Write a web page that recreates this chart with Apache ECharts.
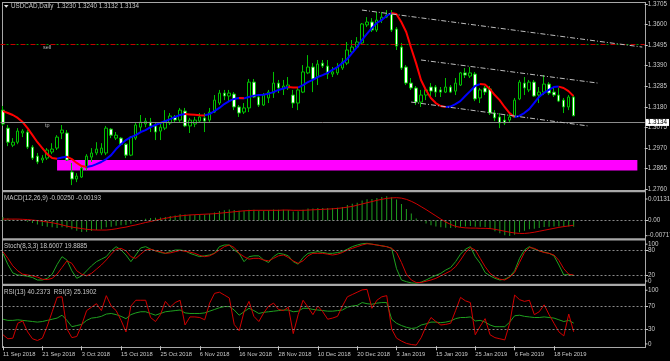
<!DOCTYPE html>
<html><head><meta charset="utf-8">
<script src="https://cdn.jsdelivr.net/npm/echarts@6/dist/echarts.min.js"></script>
<style>html,body{margin:0;padding:0;background:#000;}#c{width:670px;height:361px;}</style>
</head><body><div id="c"></div>
<script>
// ---------------- data ----------------
const symbolName = 'USDCAD,Daily';
const dateLabels = ['11 Sep 2018','21 Sep 2018','3 Oct 2018','15 Oct 2018','25 Oct 2018','6 Nov 2018','16 Nov 2018','28 Nov 2018','10 Dec 2018','20 Dec 2018','3 Jan 2019','15 Jan 2019','25 Jan 2019','6 Feb 2019','18 Feb 2019'];
const barsPerDateLabel = 8;
const slotCount = 131; // bars plus empty right margin of the chart
const priceTicks = [1.2760,1.2865,1.2970,1.3075,1.3180,1.3285,1.3390,1.3495,1.3600,1.3705];
const macdRange = [-0.00717, 0.01131];
const macdTicks = [0];
const stochTicks = [20, 80];
const rsiTicks = [30, 70];

const openP = [1.3163,1.3071,1.2984,1.2999,1.3046,1.3051,1.2974,1.2928,1.2908,1.2918,
1.2949,1.2969,1.3046,1.3046,1.2847,1.2811,1.2821,1.2867,1.2923,1.2944,
1.2944,1.2944,1.3066,1.3020,1.3020,1.2989,1.2933,1.3020,1.3076,1.3092,
1.3102,1.3082,1.3056,1.3071,1.3097,1.3128,1.3112,1.3158,1.3082,1.3092,
1.3107,1.3123,1.3112,1.3153,1.3199,1.3250,1.3235,1.3245,1.3179,1.3153,
1.3174,1.3306,1.3230,1.3189,1.3225,1.3250,1.3301,1.3271,1.3276,1.3240,
1.3199,1.3255,1.3353,1.3383,1.3332,1.3403,1.3388,1.3347,1.3353,1.3378,
1.3403,1.3460,1.3485,1.3506,1.3598,1.3613,1.3572,1.3623,1.3638,1.3654,
1.3577,1.3485,1.3383,1.3301,1.3276,1.3204,1.3240,1.3281,1.3281,1.3266,
1.3255,1.3281,1.3260,1.3291,1.3353,1.3337,1.3347,1.3225,1.3276,1.3271,
1.3148,1.3128,1.3112,1.3112,1.3128,1.3220,1.3301,1.3266,1.3306,1.3240,
1.3255,1.3296,1.3255,1.3240,1.3214,1.3179,1.3230];
const closeP = [1.3092,1.2999,1.2999,1.3056,1.3056,1.2974,1.2918,1.2898,1.2918,1.2959,
1.2964,1.3025,1.3061,1.2908,1.2811,1.2826,1.2867,1.2928,1.2944,1.2964,
1.2969,1.3071,1.3035,1.3035,1.2989,1.2933,1.3025,1.3087,1.3102,1.3107,
1.3082,1.3051,1.3076,1.3107,1.3133,1.3112,1.3163,1.3082,1.3112,1.3112,
1.3128,1.3107,1.3153,1.3214,1.3250,1.3235,1.3250,1.3179,1.3148,1.3174,
1.3306,1.3230,1.3189,1.3240,1.3255,1.3301,1.3276,1.3286,1.3291,1.3199,
1.3266,1.3358,1.3383,1.3322,1.3398,1.3388,1.3347,1.3358,1.3383,1.3409,
1.3470,1.3485,1.3511,1.3603,1.3613,1.3572,1.3623,1.3638,1.3649,1.3572,
1.3490,1.3378,1.3301,1.3276,1.3204,1.3240,1.3266,1.3260,1.3255,1.3255,
1.3281,1.3255,1.3301,1.3353,1.3342,1.3353,1.3220,1.3266,1.3255,1.3148,
1.3123,1.3097,1.3097,1.3128,1.3214,1.3306,1.3276,1.3306,1.3235,1.3255,
1.3296,1.3250,1.3240,1.3209,1.3179,1.3230,1.3134];
const highP = [1.3184,1.3087,1.3020,1.3071,1.3066,1.3061,1.2984,1.2944,1.2933,1.2969,
1.2994,1.3035,1.3087,1.3061,1.2893,1.2841,1.2882,1.2938,1.2969,1.2999,
1.2994,1.3082,1.3071,1.3051,1.3025,1.2994,1.3030,1.3097,1.3138,1.3123,
1.3123,1.3097,1.3102,1.3163,1.3148,1.3138,1.3174,1.3174,1.3123,1.3128,
1.3148,1.3148,1.3174,1.3240,1.3266,1.3266,1.3266,1.3255,1.3189,1.3199,
1.3322,1.3322,1.3240,1.3250,1.3266,1.3358,1.3317,1.3317,1.3332,1.3266,
1.3276,1.3393,1.3444,1.3403,1.3419,1.3419,1.3419,1.3383,1.3403,1.3429,
1.3511,1.3521,1.3536,1.3608,1.3638,1.3633,1.3664,1.3664,1.3674,1.3674,
1.3587,1.3506,1.3393,1.3327,1.3286,1.3266,1.3276,1.3301,1.3291,1.3281,
1.3327,1.3291,1.3327,1.3358,1.3378,1.3383,1.3358,1.3276,1.3286,1.3286,
1.3163,1.3148,1.3138,1.3148,1.3225,1.3317,1.3332,1.3317,1.3317,1.3281,
1.3342,1.3306,1.3276,1.3276,1.3225,1.3240,1.3240];
const lowP = [1.3082,1.2979,1.2974,1.2989,1.3025,1.2964,1.2908,1.2887,1.2893,1.2908,
1.2938,1.2959,1.3015,1.2903,1.2780,1.2795,1.2816,1.2857,1.2898,1.2933,
1.2933,1.2933,1.3020,1.3010,1.2984,1.2918,1.2928,1.3010,1.3046,1.3076,
1.3051,1.3010,1.3010,1.3061,1.3087,1.3102,1.3102,1.3076,1.3046,1.3076,
1.3102,1.3051,1.3102,1.3148,1.3189,1.3214,1.3204,1.3163,1.3128,1.3143,
1.3153,1.3225,1.3179,1.3184,1.3199,1.3225,1.3250,1.3240,1.3266,1.3174,
1.3163,1.3250,1.3347,1.3255,1.3291,1.3378,1.3322,1.3332,1.3342,1.3368,
1.3393,1.3454,1.3475,1.3501,1.3587,1.3562,1.3562,1.3608,1.3633,1.3562,
1.3470,1.3368,1.3291,1.3266,1.3189,1.3179,1.3214,1.3230,1.3230,1.3230,
1.3250,1.3250,1.3240,1.3286,1.3327,1.3327,1.3209,1.3199,1.3240,1.3138,
1.3107,1.3071,1.3087,1.3102,1.3123,1.3214,1.3240,1.3255,1.3230,1.3199,
1.3240,1.3240,1.3230,1.3204,1.3148,1.3163,1.3132];
const maLine = [1.3158,1.3148,1.3138,1.3123,1.3102,1.3071,1.3035,1.2999,1.2969,1.2938,
1.2918,1.2915,1.2921,1.2925,1.2913,1.2893,1.2877,1.2872,1.2877,1.2887,
1.2898,1.2913,1.2933,1.2964,1.2989,1.3010,1.3025,1.3035,1.3051,1.3061,
1.3076,1.3087,1.3097,1.3107,1.3117,1.3128,1.3138,1.3143,1.3141,1.3139,
1.3137,1.3136,1.3143,1.3158,1.3174,1.3194,1.3209,1.3220,1.3225,1.3223,
1.3230,1.3237,1.3240,1.3242,1.3247,1.3255,1.3266,1.3273,1.3281,1.3279,
1.3278,1.3291,1.3306,1.3317,1.3332,1.3342,1.3353,1.3368,1.3383,1.3403,
1.3424,1.3454,1.3485,1.3521,1.3552,1.3582,1.3608,1.3623,1.3644,1.3659,
1.3654,1.3613,1.3562,1.3480,1.3403,1.3317,1.3266,1.3225,1.3199,1.3184,
1.3179,1.3181,1.3194,1.3209,1.3235,1.3260,1.3286,1.3296,1.3294,1.3271,
1.3240,1.3214,1.3179,1.3148,1.3128,1.3133,1.3148,1.3168,1.3199,1.3230,
1.3250,1.3266,1.3281,1.3283,1.3276,1.3260,1.3235];
const sellLevel = 1.3461;
const tpLevel = 1.3061;
const zoneStart = 11, zoneEnd = 129, zoneHigh = 1.2908, zoneLow = 1.2854;
const trendUpper = [[73, 1.3674], [130, 1.3485]];
const trendMiddle = [[85, 1.3419], [121, 1.3301]];
const trendLower = [[83, 1.3204], [119, 1.3082]];
const macdMain = [0.0015,0.0008,0.0004,0.0003,0.0001,-0.0005,-0.0010,-0.0016,-0.0022,-0.0026,
-0.0028,-0.0031,-0.0028,-0.0030,-0.0036,-0.0042,-0.0047,-0.0046,-0.0043,-0.0039,
-0.0036,-0.0028,-0.0025,-0.0021,-0.0019,-0.0018,-0.0013,-0.0006,0.0002,0.0007,
0.0010,0.0011,0.0012,0.0015,0.0019,0.0021,0.0026,0.0025,0.0024,0.0024,
0.0025,0.0025,0.0028,0.0033,0.0039,0.0042,0.0045,0.0043,0.0040,0.0039,
0.0044,0.0044,0.0041,0.0041,0.0042,0.0045,0.0044,0.0044,0.0043,0.0037,
0.0038,0.0044,0.0049,0.0049,0.0052,0.0052,0.0051,0.0051,0.0053,0.0056,
0.0064,0.0069,0.0073,0.0082,0.0087,0.0088,0.0093,0.0097,0.0100,0.0096,
0.0086,0.0068,0.0047,0.0029,0.0008,-0.0003,-0.0012,-0.0019,-0.0024,-0.0028,
-0.0030,-0.0031,-0.0030,-0.0026,-0.0024,-0.0022,-0.0026,-0.0026,-0.0027,-0.0035,
-0.0044,-0.0052,-0.0060,-0.0063,-0.0058,-0.0048,-0.0042,-0.0036,-0.0034,-0.0031,
-0.0027,-0.0025,-0.0024,-0.0024,-0.0026,-0.0024,-0.00250];
const macdSignal = [0.0006,0.0006,0.0006,0.0006,0.0005,0.0004,0.0002,0.0000,-0.0003,-0.0006,
-0.0009,-0.0013,-0.0018,-0.0023,-0.0027,-0.0030,-0.0033,-0.0036,-0.0038,-0.0039,
-0.0039,-0.0039,-0.0037,-0.0034,-0.0030,-0.0027,-0.0022,-0.0018,-0.0013,-0.0008,
-0.0004,0.0001,0.0005,0.0009,0.0013,0.0016,0.0019,0.0021,0.0023,0.0024,
0.0025,0.0026,0.0027,0.0028,0.0030,0.0032,0.0034,0.0036,0.0038,0.0040,
0.0041,0.0042,0.0042,0.0042,0.0042,0.0042,0.0042,0.0043,0.0043,0.0042,
0.0042,0.0042,0.0043,0.0044,0.0045,0.0046,0.0047,0.0048,0.0050,0.0052,
0.0055,0.0058,0.0063,0.0068,0.0073,0.0078,0.0083,0.0087,0.0091,0.0093,
0.0094,0.0092,0.0087,0.0079,0.0069,0.0057,0.0045,0.0032,0.0019,0.0006,
-0.0006,-0.0016,-0.0024,-0.0028,-0.0030,-0.0031,-0.0031,-0.0032,-0.0032,-0.0033,
-0.0036,-0.0040,-0.0044,-0.0048,-0.0051,-0.0053,-0.0053,-0.0051,-0.0048,-0.0044,
-0.0040,-0.0036,-0.0032,-0.0028,-0.0025,-0.0022,-0.00193];
const stochMain = [72,45,25,20,19,17,14,8,8,12,
22,45,64,56,30,12,18,30,42,52,
58,64,78,88,80,68,52,68,85,88,
82,78,74,72,76,80,80,78,72,68,
64,66,68,72,88,92,92,80,72,52,
64,66,66,56,50,64,72,70,66,52,
46,62,72,74,76,74,72,72,74,76,
82,88,92,95,96,94,92,90,88,84,
35,8,4,1,0,3,8,14,19,24,
32,38,52,70,82,88,64,48,26,18,
12,8,10,16,30,60,80,88,82,78,
75,72,66,44,20,21,18.6007];
const stochSignal = [76,60,42,30,22,20,18,15,10,9,
12,22,38,54,48,30,22,18,24,34,
44,56,70,82,84,78,64,60,70,80,
82,78,76,72,73,76,79,77,75,72,
67,64,66,72,80,88,92,86,72,64,
58,60,60,56,54,60,66,68,62,54,
48,54,66,72,72,72,70,68,70,74,
80,84,88,92,95,94,92,90,88,84,
74,50,22,8,2,2,5,8,12,18,
24,30,40,56,74,86,80,60,40,24,
15,10,8,15,26,50,74,86,84,78,
74,72,68,55,35,22,19.8885];
const rsi13 = [47,45,45,46,45,44,43,42,43,45,
47,49,54,45,34,36,38,45,49,50,
52,56,57,55,52,48,55,58,60,60,
57,54,57,60,61,62,63,58,57,57,
57,58,61,64,67,69,69,63,54,60,
66,62,57,59,60,61,62,63,63,60,
61,66,66,64,63,62,61,61,62,63,
68,70,71,76,74,73,75,76,76,47,
40,36,33,31,32,37,39,42,42,41,
42,44,48,50,50,51,44,45,42,37,
34,34,34,42,53,54,52,51,50,50,
51,50,49,46,43,45,40.2373];
const rsi3 = [20,13,14,40,44,25,13,10,14,35,
60,85,86,30,15,17,37,62,68,74,
62,88,70,62,45,25,70,80,80,80,
50,43,55,78,68,76,80,37,51,51,
50,46,75,92,94,89,84,38,27,60,
78,52,43,58,70,75,64,62,68,22,
55,80,68,55,70,60,47,49,52,70,
86,90,94,98,99,66,80,86,88,30,
14,9,5,3,2,15,35,50,43,37,
38,40,62,85,79,76,20,35,48,20,
15,13,11,40,89,81,78,80,55,60,
72,55,40,25,18,56,25.1902];

// ---------------- build ----------------
const FONT = 'Liberation Sans';
const TXT = '#c8c8c8';
const GREEN_CANDLE = '#00c000';
const n = openP.length;
const last = n - 1;
const cats = Array.from({length: slotCount}, (_, i) => String(i));
const candleData = openP.map((o, i) => [o, closeP[i], lowP[i], highP[i]]);
const maUp = maLine.map(() => null), maDn = maLine.map(() => null);
for (let i = 0; i < n - 1; i++) {
  const arr = maLine[i + 1] >= maLine[i] ? maUp : maDn;
  arr[i] = maLine[i]; arr[i + 1] = maLine[i + 1];
}
const isDateIdx = (i) => i % barsPerDateLabel === 0 && i / barsPerDateLabel < dateLabels.length;

const chart = echarts.init(document.getElementById('c'), null, {renderer: 'canvas'});
const gridDefs = [
  {left: 0.5, right: 25, top: 4, height: 185},
  {left: 0.5, right: 25, top: 193, height: 45},
  {left: 0.5, right: 25, top: 241.67, height: 41.67},
  {left: 0.5, right: 25, top: 288.75, height: 57.5}
];
const xAxes = gridDefs.map((g, k) => ({
  type: 'category', gridIndex: k, data: cats, boundaryGap: true,
  axisLine: {show: false}, splitLine: {show: false},
  axisTick: k === 3 ? {show: true, interval: (i) => isDateIdx(i), alignWithLabel: true, length: 4, lineStyle: {color: TXT}} : {show: false},
  axisLabel: k === 3 ? {show: true, interval: (i) => isDateIdx(i), formatter: (v, i) => isDateIdx(i) ? dateLabels[i / barsPerDateLabel] : '',
    align: 'left', margin: 3, fontSize: 5.8, color: TXT, fontFamily: FONT, hideOverlap: false} : {show: false},
  offset: k === 3 ? 1.75 : 0
}));
function yAx(k, min, max, ticks, fmt) {
  return {type: 'value', gridIndex: k, position: 'right', min: min, max: max,
    axisLine: {show: false}, splitLine: {show: false},
    axisTick: {show: true, length: 3, customValues: ticks, lineStyle: {color: TXT}},
    axisLabel: {show: true, customValues: ticks, formatter: fmt, margin: 3, fontSize: 6.3, color: TXT, fontFamily: FONT}};
}
const levelStyle = {color: '#8a8a8a', type: [2, 2], width: 1};
const lvl = (vals) => ({silent: true, symbol: ['none', 'none'], label: {show: false}, lineStyle: levelStyle, data: vals.map(v => ({yAxis: v}))});

const option = {
  backgroundColor: '#000000',
  animation: false,
  grid: gridDefs,
  xAxis: xAxes,
  yAxis: [
    yAx(0, priceTicks[0], priceTicks[priceTicks.length - 1], priceTicks, v => v.toFixed(4)),
    yAx(1, macdRange[0], macdRange[1], macdTicks, () => '0.00'),
    yAx(2, 0, 100, stochTicks, v => String(v)),
    yAx(3, 0, 100, rsiTicks, v => String(v))
  ],
  series: [
    {type: 'line', xAxisIndex: 0, yAxisIndex: 0, data: ['-'], z: 0, silent: true,
      markArea: {silent: true, itemStyle: {color: '#ff00ff', opacity: 1},
        data: [[{xAxis: zoneStart, yAxis: zoneHigh}, {xAxis: zoneEnd, yAxis: zoneLow}]]}},
    {type: 'candlestick', xAxisIndex: 0, yAxisIndex: 0, data: candleData, barWidth: 3, z: 2,
      itemStyle: {color: '#000000', color0: '#ffffff', borderColor: GREEN_CANDLE, borderColor0: GREEN_CANDLE, borderWidth: 1},
      markLine: {silent: true, symbol: ['none', 'none'], label: {show: false},
        data: [
          {yAxis: sellLevel, lineStyle: {color: '#c80000', type: [5, 5], width: 1}},
          {yAxis: sellLevel, lineStyle: {color: '#00a000', type: [2, 8], dashOffset: -6, width: 1}},
          {yAxis: tpLevel, lineStyle: {color: '#9a0000', type: [6, 3, 2, 3], width: 1}},
          {yAxis: closeP[last], lineStyle: {color: '#8c8c8c', type: 'solid', width: 1},
            label: {show: true, position: 'end', distance: 1, formatter: closeP[last].toFixed(4), backgroundColor: '#ffffff',
              color: '#000000', padding: [1, 2, 0, 2], fontSize: 6.3, fontFamily: FONT}},
          [{coord: trendUpper[0]}, {coord: trendUpper[1], lineStyle: {color: '#bdbdbd', type: [5, 2, 1, 2], width: 1}}],
          [{coord: trendMiddle[0]}, {coord: trendMiddle[1], lineStyle: {color: '#bdbdbd', type: [5, 2, 1, 2], width: 1}}],
          [{coord: trendLower[0]}, {coord: trendLower[1], lineStyle: {color: '#bdbdbd', type: [5, 2, 1, 2], width: 1}}]
        ]},
      markPoint: {silent: true, symbol: 'rect', symbolSize: 1, itemStyle: {color: 'rgba(0,0,0,0)'},
        label: {show: true, position: 'top', distance: 1, color: '#b8b8b8', fontSize: 5.5, fontFamily: FONT, formatter: '{b}'},
        data: [{name: 'sell', coord: [9, sellLevel]}, {name: 'tp', coord: [9, tpLevel]}]}
    },
    {type: 'line', xAxisIndex: 0, yAxisIndex: 0, data: maUp, showSymbol: false, connectNulls: false, z: 3, silent: true,
      lineStyle: {color: '#0000ff', width: 2}},
    {type: 'line', xAxisIndex: 0, yAxisIndex: 0, data: maDn, showSymbol: false, connectNulls: false, z: 3, silent: true,
      lineStyle: {color: '#ff0000', width: 2}},
    {type: 'bar', xAxisIndex: 1, yAxisIndex: 1, data: macdMain, barWidth: 1, itemStyle: {color: '#1fa01f'}, silent: true, markLine: lvl(macdTicks)},
    {type: 'line', xAxisIndex: 1, yAxisIndex: 1, data: macdSignal, showSymbol: false, silent: true, lineStyle: {color: '#d00000', width: 1}},
    {type: 'line', xAxisIndex: 2, yAxisIndex: 2, data: stochMain, showSymbol: false, silent: true, lineStyle: {color: '#1fa01f', width: 1}, markLine: lvl(stochTicks)},
    {type: 'line', xAxisIndex: 2, yAxisIndex: 2, data: stochSignal, showSymbol: false, silent: true, lineStyle: {color: '#d00000', width: 1}},
    {type: 'line', xAxisIndex: 3, yAxisIndex: 3, data: rsi13, showSymbol: false, silent: true, lineStyle: {color: '#1fa01f', width: 1}, markLine: lvl(rsiTicks)},
    {type: 'line', xAxisIndex: 3, yAxisIndex: 3, data: rsi3, showSymbol: false, silent: true, lineStyle: {color: '#d00000', width: 1}}
  ]
};
chart.setOption(option);

// frame, titles and panel range labels
const BORDER = '#a8a8a8';
const t = (x, y, s, extra) => Object.assign({type: 'text', x: x, y: y, silent: true,
  style: {text: s, fill: TXT, font: '6.3px "' + FONT + '"', textVerticalAlign: 'middle'}}, extra || {});
const g = [
  {type: 'line', silent: true, shape: {x1: 2, y1: 2.5, x2: 646, y2: 2.5}, style: {stroke: BORDER, lineWidth: 1}},
  {type: 'line', silent: true, shape: {x1: 2.5, y1: 2, x2: 2.5, y2: 348}, style: {stroke: BORDER, lineWidth: 1}},
  {type: 'line', silent: true, shape: {x1: 645.5, y1: 2, x2: 645.5, y2: 348}, style: {stroke: BORDER, lineWidth: 1}},
  {type: 'line', silent: true, shape: {x1: 2, y1: 347.5, x2: 646, y2: 347.5}, style: {stroke: BORDER, lineWidth: 1}},
  {type: 'rect', silent: true, shape: {x: 2, y: 190, width: 644, height: 2.2}, style: {fill: BORDER}},
  {type: 'rect', silent: true, shape: {x: 2, y: 238.3, width: 644, height: 2.2}, style: {fill: BORDER}},
  {type: 'rect', silent: true, shape: {x: 2, y: 283.7, width: 644, height: 2.2}, style: {fill: BORDER}},
  {type: 'polygon', silent: true, shape: {points: [[4, 5], [8.5, 5], [6.25, 7.8]]}, style: {fill: '#e0e0e0'}},
  t(11, 6.5, symbolName + '  ' + openP[last].toFixed(4) + ' ' + highP[last].toFixed(4) + ' ' + lowP[last].toFixed(4) + ' ' + closeP[last].toFixed(4)),
  t(4, 198.5, 'MACD(12,26,9) ' + macdMain[last].toFixed(5) + ' ' + macdSignal[last].toFixed(5)),
  t(4, 246.5, 'Stoch(8,3,3) ' + stochMain[last].toFixed(4) + ' ' + stochSignal[last].toFixed(4)),
  t(4, 292.5, 'RSI(13) ' + rsi13[last].toFixed(4) + '  RSI(3) ' + rsi3[last].toFixed(4))
];
// panel max/min labels, placed through the axis scale
const ext = [
  [1, macdRange[1], v => v.toFixed(5), 6], [1, macdRange[0], v => v.toFixed(5), -2.3],
  [2, 100, v => String(v), 2.5], [2, 0, v => String(v), -2.3],
  [3, 100, v => String(v), 1.5], [3, 0, v => String(v), -2.3]
];
ext.forEach(([k, v, f, off]) => {
  const y = chart.convertToPixel({yAxisIndex: k}, v);
  g.push(t(648, y + off, f(v)));
  g.push({type: 'line', silent: true, shape: {x1: 645, y1: y + off, x2: 647.5, y2: y + off}, style: {stroke: TXT, lineWidth: 1}});
});
chart.setOption({graphic: g});
</script></body></html>
